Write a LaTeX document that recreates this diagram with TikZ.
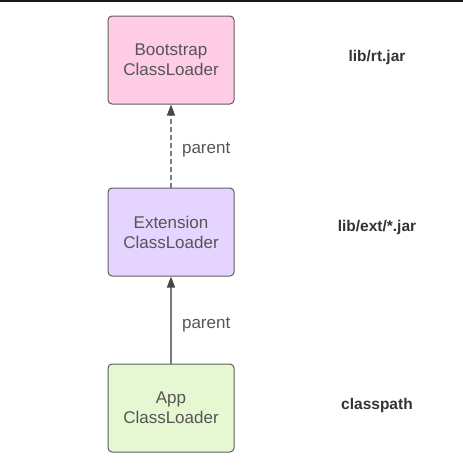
\documentclass[tikz,border=0pt]{standalone}
\usepackage{fontspec}
\setmainfont{Liberation Sans}
\usetikzlibrary{positioning,arrows.meta}
\definecolor{bootpink}{HTML}{FFCCE5}
\definecolor{extpurple}{HTML}{E5D4FF}
\definecolor{appgreen}{HTML}{E5F8D2}
\definecolor{boxline}{HTML}{5E5E5E}
\definecolor{arrowgray}{HTML}{7A7A7A}
\definecolor{txtgray}{HTML}{555555}
\begin{document}
\begin{tikzpicture}[x=1pt, y=-1pt, node distance=206pt, auto]

% Define styles
\tikzstyle{loader} = [draw=boxline, line width=1pt, rectangle, rounded corners=4pt, minimum width=126pt, minimum height=88pt, text centered, align=center, text=txtgray, font=\fontsize{17}{20}\selectfont]
\tikzstyle{jarpath} = [text=black!80, font=\fontsize{15.5}{18}\selectfont\bfseries]
\tikzstyle{line} = [-{Triangle[length=11pt,width=8pt,color=black!72]}, line width=1.5pt, draw=arrowgray]
\tikzstyle{tag} = [text=txtgray, font=\fontsize{17}{20}\selectfont]

% Canvas
\useasboundingbox (0,0) rectangle (463,467);
\fill[black!90] (0,0) rectangle (463,2);

% Loaders
\node[loader, fill=bootpink] (boot) at (171,60) {Bootstrap\\ClassLoader};
\node[loader, fill=extpurple, below=83pt of boot] (ext) {Extension\\ClassLoader};
\node[loader, fill=appgreen, below=87pt of ext] (app) {App\\ClassLoader};

% Paths
\node[jarpath, right of=boot, yshift=3pt] (rtjar) {lib/rt.jar};
\node[jarpath, right of=ext, yshift=5pt] (extjar) {lib/ext/*.jar};
\node[jarpath, right of=app, yshift=3pt] (classpath) {classpath};

% Arrows
\draw[line, dashed, dash pattern=on 5pt off 3pt] (ext) -- node[tag, right=7pt, pos=0.45] (tagext) {parent} (boot);
\draw[line] (app) -- node[tag, right=7pt, pos=0.45] (tagapp) {parent} (ext);

\end{tikzpicture}
\end{document}
